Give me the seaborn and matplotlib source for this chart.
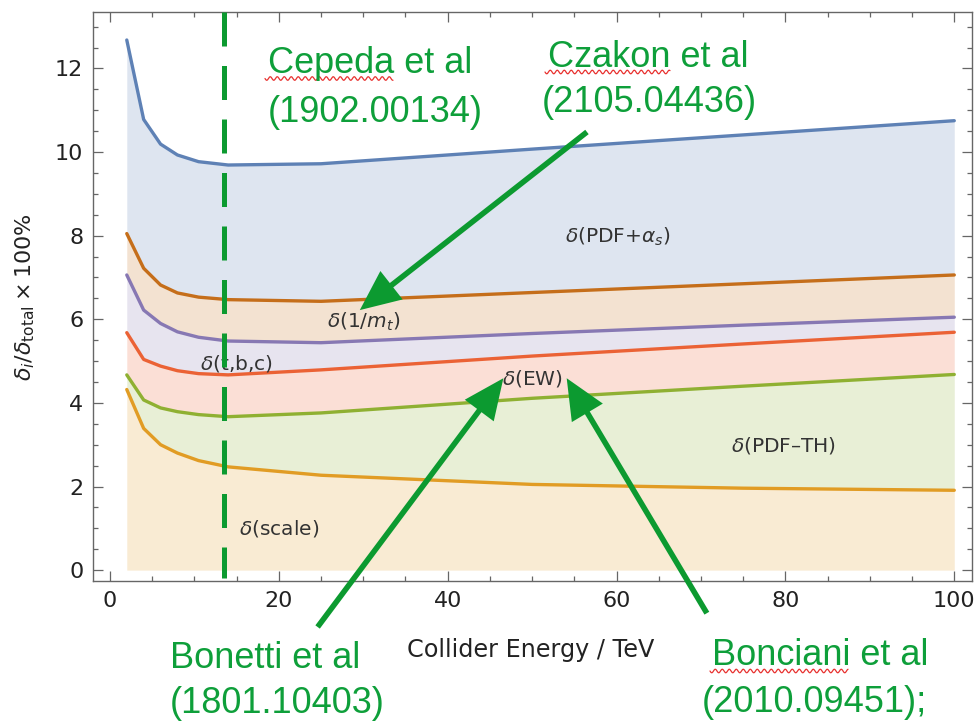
import numpy as np
import pandas as pd
import matplotlib
matplotlib.use("Agg")
import matplotlib.pyplot as plt
import seaborn as sns
from matplotlib.lines import Line2D
from matplotlib.ticker import MultipleLocator

# ---- data (cumulative upper edge of each band) ----
energy = [2, 4, 6, 8, 10.5, 14, 25, 50, 75, 100]
scale = [4.32, 3.39, 3.00, 2.80, 2.62, 2.47, 2.27, 2.05, 1.96, 1.91]
pdf_th = [4.67, 4.07, 3.88, 3.79, 3.72, 3.67, 3.76, 4.11, 4.40, 4.68]
ew = [5.68, 5.04, 4.88, 4.77, 4.70, 4.67, 4.79, 5.12, 5.41, 5.69]
tbc = [7.06, 6.22, 5.90, 5.70, 5.57, 5.48, 5.44, 5.66, 5.86, 6.05]
mt = [8.05, 7.22, 6.82, 6.63, 6.53, 6.47, 6.43, 6.64, 6.85, 7.06]
pdf_as = [12.68, 10.78, 10.19, 9.93, 9.77, 9.69, 9.72, 10.07, 10.41, 10.75]

band_names = ["scale", "PDF-TH", "EW", "tbc", "mt", "PDF+as"]
band_values = [scale, pdf_th, ew, tbc, mt, pdf_as]
band_colors = ["#E19C24", "#8FB032", "#EB6235", "#8778B3", "#C56E1A", "#5E81B5"]

band_labels = [r"$\delta$(scale)", r"$\delta$(PDF–TH)", r"$\delta$(EW)",
               r"$\delta$(t,b,c)", r"$\delta$(1/$m_t$)", r"$\delta$(PDF+$\alpha_s$)"]
label_x = [15.3, 73.5, 46.4, 10.7, 25.7, 53.9]
label_y = [1.0, 2.99, 4.59, 4.95, 5.93, 7.97]

x_ticks = [0, 20, 40, 60, 80, 100]
y_ticks = [0, 2, 4, 6, 8, 10, 12]
dashed_energy = 13.5

refs = [("Cepeda et al", "(1902.00134)"), ("Czakon et al", "(2105.04436)"),
        ("Bonetti et al", "(1801.10403)"), ("Bonciani et al", "(2010.09451);")]

sns.set_theme(style="ticks")
plt.rcParams["font.family"] = ["DejaVu Sans"]
plt.rcParams["mathtext.fontset"] = "dejavusans"

W, H = 979, 724
fig = plt.figure(figsize=(W / 100, H / 100), dpi=100)
ax = fig.add_axes([93 / W, 1 - 581 / H, (972 - 93) / W, (581 - 12) / H])

df = pd.DataFrame({
    "energy": np.tile(energy, len(band_names)),
    "value": np.concatenate(band_values),
    "band": np.repeat(band_names, len(energy)),
})

prev = np.zeros(len(energy))
for vals, col in zip(band_values, band_colors):
    ax.fill_between(energy, prev, vals, color=col, alpha=0.2, lw=0, zorder=1)
    prev = np.array(vals)

sns.lineplot(data=df, x="energy", y="value", hue="band",
             palette=dict(zip(band_names, band_colors)), estimator=None,
             sort=False, lw=2.4, legend=False, ax=ax, zorder=2)

for lab, lx, ly in zip(band_labels, label_x, label_y):
    ax.text(lx, ly, lab, fontsize=14.5, color="#333333", ha="left", va="center", zorder=3)

ax.set_xlim(-2.0, 102.1)
ax.set_ylim(-0.26, 13.35)
ax.set_xticks(x_ticks)
ax.set_yticks(y_ticks)
ax.xaxis.set_minor_locator(MultipleLocator(5))
ax.yaxis.set_minor_locator(MultipleLocator(0.5))
ax.tick_params(which="both", direction="in", top=True, right=True,
               color="#666666", width=0.9, labelsize=16, labelcolor="#222222")
ax.tick_params(which="major", length=7.5)
ax.tick_params(which="minor", length=3.8)
ax.tick_params(axis="x", pad=7)
ax.tick_params(axis="y", pad=7)
for s in ax.spines.values():
    s.set_color("#666666")
    s.set_linewidth(1.0)
ax.set_xlabel("")
ax.set_ylabel("")

green = "#0E9F3A"
arrow_green = "#0C9A30"

# dashed vertical marker
ax.plot([dashed_energy, dashed_energy], [1.0, 0.005], transform=ax.get_xaxis_transform(),
        color=arrow_green, lw=3.6, dashes=(6.8, 3.9), solid_capstyle="butt",
        dash_capstyle="butt", zorder=4, clip_on=False)

# arrows
arrow_kw = dict(width=4.0, headwidth=26, headlength=29, color=arrow_green, lw=0, shrink=0)
ax.annotate("", xy=(29.6, 6.22), xytext=(56.5, 10.48), arrowprops=arrow_kw,
            annotation_clip=False, zorder=5)
ax.annotate("", xy=(46.6, 4.59), xytext=(24.6, -1.36), arrowprops=arrow_kw,
            annotation_clip=False, zorder=5)
ax.annotate("", xy=(54.1, 4.59), xytext=(70.7, -1.03), arrowprops=arrow_kw,
            annotation_clip=False, zorder=5)

# axis labels
fig.text(531 / W, 1 - 650 / H, "Collider Energy / TeV", fontsize=17.2,
         color="#222222", ha="center", va="center")
fig.text(25 / W, 1 - 297 / H, r"$\delta_i/\delta_{\mathrm{total}}\times100\%$",
         fontsize=16, color="#222222", ha="center", va="center", rotation=90)

# reference annotations
pos = [((268, 73), (268, 122)), ((548, 67), (542, 112)),
       ((170, 668), (170, 713)), ((712, 665), (702, 712))]
for (l1, l2), ((x1, y1), (x2, y2)) in zip(refs, pos):
    fig.text(x1 / W, 1 - y1 / H, l1, fontsize=26, color=green,
             family="Liberation Sans", ha="left", va="baseline")
    fig.text(x2 / W, 1 - y2 / H, l2, fontsize=26, color=green,
             family="Liberation Sans", ha="left", va="baseline")

# spell-check squiggles
for x0, x1, yc in [(265, 393, 78.5), (545, 670, 72), (710, 848, 671)]:
    xs = np.linspace(x0, x1, 200)
    ys = yc + 1.8 * np.sin((xs - x0) * 2 * np.pi / 7.0)
    fig.add_artist(Line2D(xs / W, 1 - ys / H, color="#E8312F", lw=0.9))

fig.savefig("out.png", dpi=100)
